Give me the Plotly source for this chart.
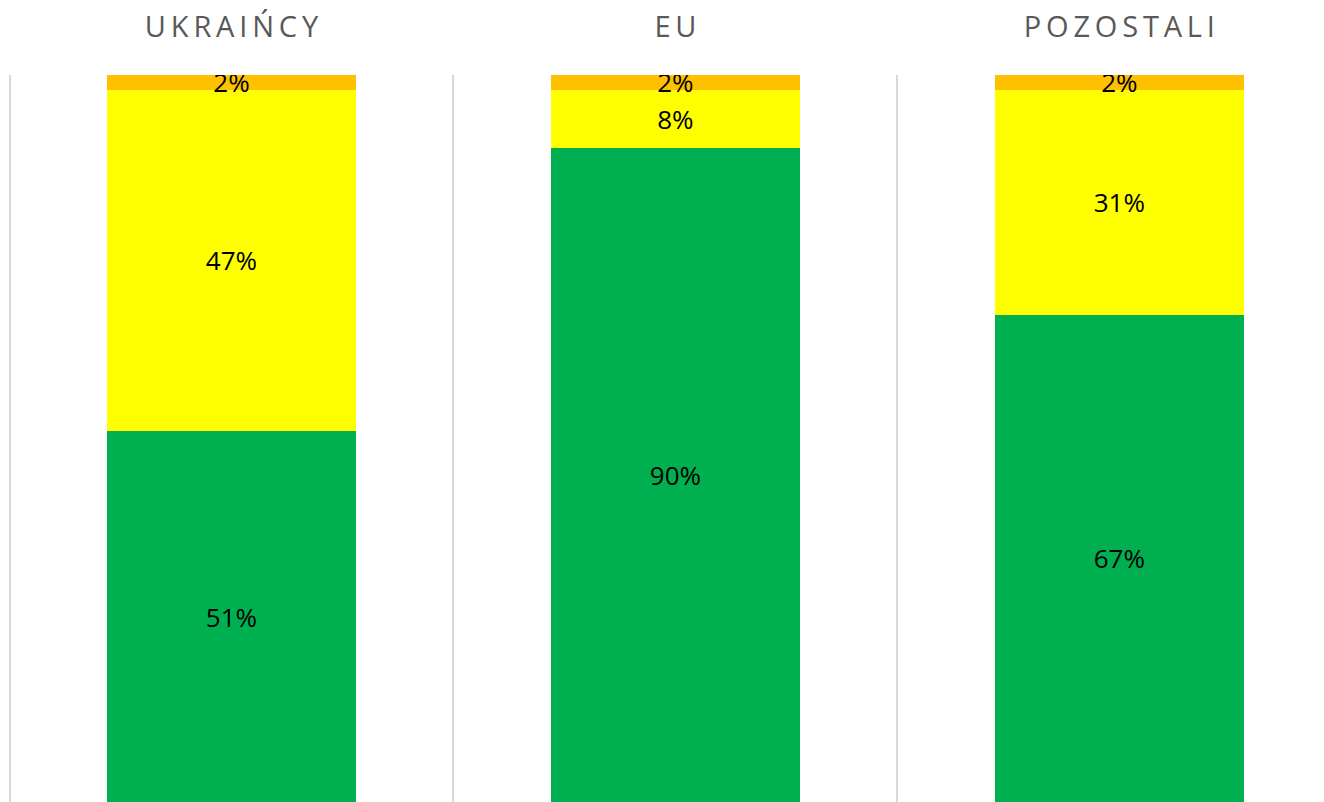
import plotly.graph_objects as go

# Share of answers per group (%)
groups = ["UKRAIŃCY", "EU", "POZOSTALI"]
green_vals = [51, 90, 67]
yellow_vals = [47, 8, 31]
orange_vals = [2, 2, 2]

def spaced(s):
    # wide letter spacing like the original headers
    return "\u2009".join(s)

x_pos = list(range(len(groups)))

fig = go.Figure()
for vals, color in [(green_vals, "#00B050"), (yellow_vals, "#FFFF00"), (orange_vals, "#FFC000")]:
    fig.add_trace(go.Bar(
        x=x_pos,
        y=vals,
        width=0.56,
        marker=dict(color=color, line=dict(width=0)),
        text=[f"{v}%" for v in vals],
        textposition="inside",
        insidetextanchor="middle",
        textfont=dict(family="Open Sans", size=26, color="#000000"),
        showlegend=False,
    ))

fig.update_layout(
    barmode="stack",
    width=1324,
    height=802,
    margin=dict(l=8, r=0, t=75, b=0),
    paper_bgcolor="white",
    plot_bgcolor="white",
    uniformtext=dict(minsize=26, mode="show"),
    xaxis=dict(
        range=[-0.5034, 2.461],
        automargin=False,
        side="top",
        tickvals=x_pos,
        ticktext=[spaced(g) for g in groups],
        tickfont=dict(family="Open Sans", size=29, color="#595959"),
        ticks="outside",
        ticklen=25,
        tickcolor="rgba(0,0,0,0)",
        showgrid=False,
        zeroline=False,
        showline=False,
        minor=dict(tickvals=[-0.5, 0.5, 1.5], showgrid=True, gridcolor="#D9D9D9", gridwidth=2, ticks=""),
    ),
    yaxis=dict(
        range=[0, 100],
        automargin=False,
        showgrid=False,
        zeroline=False,
        showticklabels=False,
        showline=False,
    ),
)

# drop the default 8px page margin so the figure fills the window
fig.write_html(
    "out.html",
    config={"displayModeBar": False},
    post_script="document.body.style.margin='0';",
)
